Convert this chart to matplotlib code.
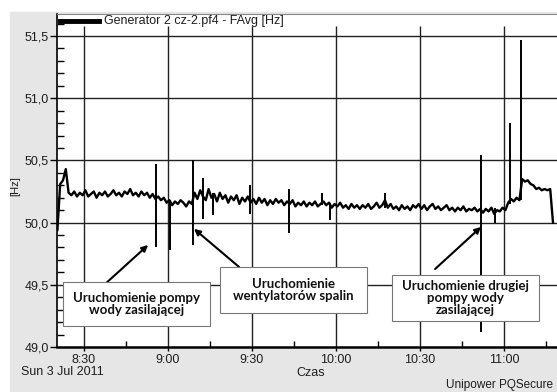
import matplotlib.pyplot as plt
import numpy as np
from matplotlib.lines import Line2D
from matplotlib.patches import Rectangle
from matplotlib.ticker import FixedLocator, MultipleLocator

plt.rcParams["font.family"] = ["Liberation Sans", "DejaVu Sans"]

W, H = 557, 392  # output size in px

# --- data: FAvg [Hz], one sample per minute from 8:20.5 (minutes since midnight) ---
t_start = 8 * 60 + 20.5
freq_hz = [
    49.94, 50.31, 50.34, 50.43, 50.24, 50.22, 50.25, 50.21, 50.24, 50.22,  # 8:20
    50.26, 50.21, 50.23, 50.25, 50.20, 50.24, 50.22, 50.25, 50.21, 50.23,  # 8:30
    50.26, 50.22, 50.24, 50.21, 50.25, 50.23, 50.27, 50.22, 50.24, 50.21,  # 8:40
    50.25, 50.22, 50.24, 50.20, 50.23, 50.19, 50.21, 50.18, 50.20, 50.16,  # 8:50
    50.18, 50.14, 50.17, 50.15, 50.18, 50.16, 50.13, 50.17, 50.15, 50.24,  # 9:00
    50.19, 50.26, 50.21, 50.18, 50.27, 50.20, 50.23, 50.17, 50.24, 50.19,  # 9:10
    50.22, 50.16, 50.21, 50.18, 50.22, 50.15, 50.20, 50.17, 50.21, 50.16,  # 9:20
    50.19, 50.15, 50.20, 50.16, 50.19, 50.14, 50.18, 50.15, 50.19, 50.16,  # 9:30
    50.18, 50.14, 50.17, 50.15, 50.18, 50.13, 50.16, 50.14, 50.17, 50.13,  # 9:40
    50.16, 50.14, 50.17, 50.13, 50.15, 50.17, 50.14, 50.16, 50.12, 50.15,  # 9:50
    50.13, 50.16, 50.12, 50.14, 50.11, 50.15, 50.12, 50.14, 50.11, 50.14,  # 10:00
    50.12, 50.15, 50.11, 50.13, 50.16, 50.12, 50.14, 50.18, 50.12, 50.15,  # 10:10
    50.11, 50.13, 50.10, 50.14, 50.11, 50.13, 50.10, 50.14, 50.12, 50.15,  # 10:20
    50.11, 50.14, 50.10, 50.13, 50.15, 50.11, 50.13, 50.10, 50.12, 50.14,  # 10:30
    50.10, 50.12, 50.09, 50.12, 50.10, 50.13, 50.09, 50.11, 50.10, 50.12,  # 10:40
    50.09, 50.11, 50.08, 50.11, 50.09, 50.12, 50.07, 50.10, 50.09, 50.12,  # 10:50
    50.10, 50.16, 50.19, 50.17, 50.20, 50.18, 50.35, 50.33, 50.34, 50.31,  # 11:00
    50.30, 50.27, 50.28, 50.26, 50.27, 50.26, 50.27, 50.00,                # 11:10
]
t_min = t_start + np.arange(len(freq_hz))

# short transients (min / max within the sample)
spike_t = [535.7, 540.7, 548.9, 552.5, 556.0, 569.3, 583.2, 595.0, 597.9, 617.5,
           651.8, 656.8, 662.1, 666.1]
spike_lo = [49.80, 49.78, 49.82, 50.03, 50.06, 50.07, 49.92, 50.14, 50.02, 50.12,
            49.12, 50.00, 50.15, 50.18]
spike_hi = [50.47, 50.18, 50.50, 50.36, 50.24, 50.30, 50.27, 50.24, 50.16, 50.24,
            50.54, 50.12, 50.80, 51.47]

hour_ticks = [510, 540, 570, 600, 630, 660]
hour_labels = ["8:30", "9:00", "9:30", "10:00", "10:30", "11:00"]
quarter_ticks = [525, 555, 585, 615, 645, 675]
hz_ticks = [49.0, 49.5, 50.0, 50.5, 51.0, 51.5]
hz_labels = ["49,0", "49,5", "50,0", "50,5", "51,0", "51,5"]

notes = ["Uruchomienie pompy\nwody zasilającej",
         "Uruchomienie\nwentylatorów spalin",
         "Uruchomienie drugiej\npompy wody\nzasilającej"]
note_boxes_px = [(63, 282, 210, 326), (220, 267, 367, 313), (392, 275, 539, 321)]
arrow_tail = [(518.2, 49.52), (565.4, 49.643), (635.4, 49.627)]
arrow_head = [(532.9, 49.82), (549.3, 49.95), (651.8, 49.965)]


def fx(x):
    return x / W


def fy(y):
    return 1 - y / H


fig = plt.figure(figsize=(W / 100, H / 100), dpi=100)
fig.add_artist(Rectangle((fx(10), fy(391)), fx(W - 10), (391 - 12) / H,
                         transform=fig.transFigure, color="#e6e6e6", zorder=-1))

ax = fig.add_axes([fx(57), 45 / H, 503 / W, 333 / H])
ax.set_xlim(500.36, 680)
ax.set_ylim(49.0, 51.677)

# grid (vertical lines stop under the legend strip)
ax.hlines(hz_ticks[1:], 500.36, 680, color="#222222", lw=1.0, zorder=1)
ax.vlines(hour_ticks, 49.0, 51.58, color="#222222", lw=1.0, zorder=1)

ax.plot(t_min, freq_hz, color="black", lw=1.7, zorder=3)
ax.vlines(spike_t, spike_lo, spike_hi, color="black", lw=1.4, zorder=3)

ax.set_xticks(hour_ticks, hour_labels)
ax.set_yticks(hz_ticks, hz_labels)
ax.xaxis.set_minor_locator(FixedLocator(quarter_ticks))
ax.yaxis.set_minor_locator(MultipleLocator(0.1))
ax.tick_params(axis="y", which="major", direction="out", length=5, width=1,
               labelsize=9, pad=1, labelcolor="#1e1e1e")
ax.tick_params(axis="y", which="minor", direction="in", length=5, width=1)
ax.tick_params(axis="x", which="major", direction="out", length=3, width=1,
               labelsize=9, pad=2, labelcolor="#1e1e1e")
ax.tick_params(axis="x", which="minor", direction="in", length=4, width=1)
ax.spines["right"].set_visible(False)
ax.spines["top"].set_color("#888888")
ax.spines["top"].set_linewidth(0.8)
ax.spines["left"].set_linewidth(1.2)
ax.spines["bottom"].set_linewidth(1.8)

# legend strip
fig.add_artist(Line2D([fx(60), fx(99)], [fy(21), fy(21)], color="black", lw=3.5))
fig.text(fx(104), fy(21), "Generator 2 cz-2.pf4 - FAvg [Hz]", fontsize=9,
         va="center", ha="left", color="#1e1e1e")

# axis texts
fig.text(fx(15), fy(186), "[Hz]", rotation=90, fontsize=8, va="center", ha="center",
         color="#1e1e1e")
fig.text(fx(21), fy(372), "Sun 3 Jul 2011", fontsize=9, va="center", ha="left",
         color="#1e1e1e")
fig.text(fx(296), fy(373), "Czas", fontsize=9, va="center", ha="left", color="#1e1e1e")
fig.text(fx(553), fy(385), "Unipower PQSecure", fontsize=8.5, va="center", ha="right",
         color="#1e1e1e")

# annotations
for text, (x0, y0, x1, y1) in zip(notes, note_boxes_px):
    fig.add_artist(Rectangle((fx(x0), fy(y1)), (x1 - x0) / W, (y1 - y0) / H,
                             transform=fig.transFigure, fc="white", ec="#777777",
                             lw=0.8, zorder=5))
    fig.text(fx((x0 + x1) / 2), fy((y0 + y1) / 2), text, fontsize=9.5,
             family=["Lato", "DejaVu Sans"], weight="bold", ha="center", va="center",
             linespacing=1.05, color="#111111", zorder=6)
for tail, head in zip(arrow_tail, arrow_head):
    ax.annotate("", xy=head, xytext=tail, zorder=4,
                arrowprops=dict(arrowstyle="-|>", color="black", lw=1.5,
                                mutation_scale=9, shrinkA=0, shrinkB=0))

fig.savefig("out.png", dpi=100)
